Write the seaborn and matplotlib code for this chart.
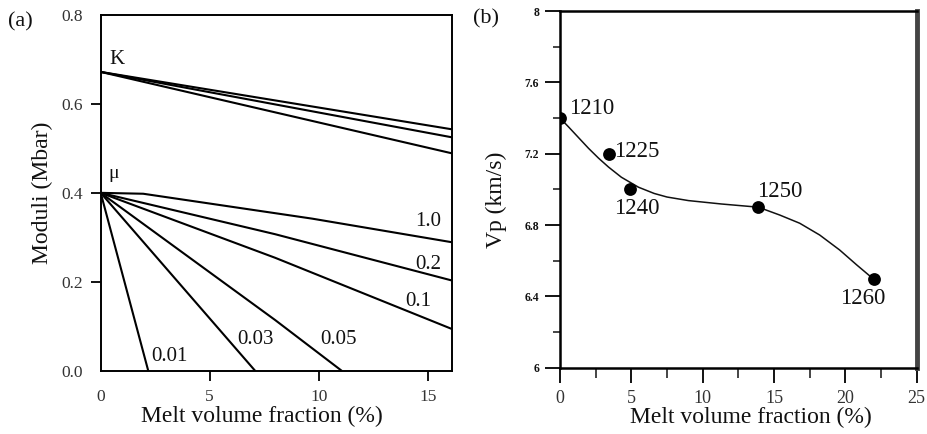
import numpy as np
import pandas as pd
import matplotlib
matplotlib.use("Agg")
import matplotlib.pyplot as plt
import seaborn as sns
from matplotlib.ticker import MultipleLocator

sns.set_theme(style="ticks")
plt.rcParams['font.family'] = ['Liberation Serif', 'DejaVu Serif']
plt.rcParams['mathtext.fontset'] = 'stix'

# ---------------- Panel (a) data ----------------
K_x = [0.0, 16.1]
K_top = [0.672, 0.543]
K_mid = [0.672, 0.525]
K_bot = [0.672, 0.489]

mu_aspects = ["1.0", "0.2", "0.1", "0.05", "0.03", "0.01"]
mu_x = {
    "1.0": [0.0, 1.95, 9.7, 16.1],
    "0.2": [0.0, 8.0, 16.1],
    "0.1": [0.0, 8.0, 16.1],
    "0.05": [0.0, 8.0, 11.05],
    "0.03": [0.0, 7.08],
    "0.01": [0.0, 2.18],
}
mu_y = {
    "1.0": [0.400, 0.398, 0.342, 0.289],
    "0.2": [0.400, 0.307, 0.203],
    "0.1": [0.400, 0.254, 0.094],
    "0.05": [0.400, 0.114, 0.0],
    "0.03": [0.400, 0.0],
    "0.01": [0.400, 0.0],
}
label_pos_x = [15.03, 15.03, 14.57, 10.9, 7.08, 3.13]
label_pos_y = [0.336, 0.238, 0.156, 0.070, 0.070, 0.032]

# ---------------- Panel (b) data ----------------
melt_frac = [0.0, 3.4, 4.9, 13.9, 22.0]
vp = [7.40, 7.20, 7.00, 6.90, 6.50]
temps = ["1210", "1225", "1240", "1250", "1260"]
temp_lab_x = [2.22, 5.36, 5.36, 15.38, 21.2]
temp_lab_y = [7.454, 7.211, 6.894, 6.987, 6.389]

curve_x = [0.0, 0.6, 1.3, 2.0, 2.7, 3.4, 4.3, 5.5, 6.6, 7.5, 9.0, 11.3, 13.9,
           15.4, 16.8, 18.2, 19.6, 20.8, 22.0]
curve_y = [7.400, 7.350, 7.290, 7.230, 7.175, 7.125, 7.068, 7.012, 6.977, 6.957,
           6.937, 6.918, 6.900, 6.856, 6.810, 6.744, 6.660, 6.576, 6.495]

W, H = 928, 434
fig = plt.figure(figsize=(W / 100, H / 100), dpi=100)

# ================= Panel (a) =================
ax1 = fig.add_axes([100.7 / W, 1 - 370.7 / H, 351 / W, 355.7 / H])
lw = 1.5
for ys in (K_top, K_mid, K_bot):
    df = pd.DataFrame({"x": K_x, "y": ys})
    sns.lineplot(data=df, x="x", y="y", ax=ax1, color="black", lw=lw,
                 sort=False, estimator=None)
for a in mu_aspects:
    df = pd.DataFrame({"x": mu_x[a], "y": mu_y[a]})
    sns.lineplot(data=df, x="x", y="y", ax=ax1, color="black", lw=lw,
                 sort=False, estimator=None)
for a, lx, ly in zip(mu_aspects, label_pos_x, label_pos_y):
    ax1.text(lx, ly, a, fontsize=15, ha="center", va="center", color="#111")
ax1.text(0.73, 0.699, "K", fontsize=15, ha="center", va="center", color="#111")
ax1.text(0.58, 0.444, "μ", fontsize=14, ha="center", va="center", color="#111")

ax1.set_xlim(0, 16.1)
ax1.set_ylim(0, 0.8)
ax1.set_xticks([0, 5, 10, 15])
ax1.set_xticklabels(["0", "5", "10", "15"])
ax1.set_yticks([0.0, 0.2, 0.4, 0.6, 0.8])
ax1.set_yticklabels(["0.0", "0.2", "0.4", "0.6", "0.8"])
ax1.tick_params(axis="both", direction="out", length=7, width=1.3,
                labelsize=12.5, colors="black", labelcolor="#333", pad=6)
ax1.xaxis.get_major_ticks()[0].tick1line.set_visible(False)
ax1.yaxis.get_major_ticks()[0].tick1line.set_visible(False)
ax1.yaxis.get_major_ticks()[-1].tick1line.set_visible(False)
for s in ax1.spines.values():
    s.set_linewidth(1.4)
    s.set_color("black")
ax1.set_xlabel("Melt volume fraction (%)", fontsize=17, color="#111")
ax1.xaxis.set_label_coords(0.459, -0.10)
ax1.set_ylabel("Moduli (Mbar)", fontsize=17, color="#111")
ax1.yaxis.set_label_coords(-0.136, 0.5)
fig.text(8 / W, 1 - 22 / H, "(a)", fontsize=16, ha="left", va="center", color="#111")

# ================= Panel (b) =================
ax2 = fig.add_axes([560 / W, 1 - 367.7 / H, 356.7 / W, 356.7 / H])
dfc = pd.DataFrame({"x": curve_x, "y": curve_y})
sns.lineplot(data=dfc, x="x", y="y", ax=ax2, color="#111", lw=1.1,
             sort=False, estimator=None)
dfp = pd.DataFrame({"x": melt_frac, "y": vp})
sns.scatterplot(data=dfp, x="x", y="y", ax=ax2, color="black", s=85,
                edgecolor="black", linewidth=0, zorder=5)
for t, lx, ly in zip(temps, temp_lab_x, temp_lab_y):
    ax2.text(lx, ly, t, fontsize=16.5, ha="center", va="center", color="#111")

ax2.set_xlim(0, 25)
ax2.set_ylim(6, 8)
ax2.set_xticks([0, 5, 10, 15, 20, 25])
ax2.set_yticks([6, 6.4, 6.8, 7.2, 7.6, 8])
ax2.set_yticklabels(["6", "6.4", "6.8", "7.2", "7.6", "8"])
ax2.xaxis.set_minor_locator(MultipleLocator(2.5))
ax2.yaxis.set_minor_locator(MultipleLocator(0.2))
ax2.tick_params(axis="both", which="major", direction="out", length=11, width=1.3,
                colors="black")
ax2.tick_params(axis="x", which="major", labelsize=13, labelcolor="#333", pad=5)
ax2.tick_params(axis="y", which="major", labelsize=8.5, labelcolor="#111", pad=4)
ax2.tick_params(axis="x", which="minor", direction="out", length=7, width=1.2)
ax2.tick_params(axis="y", which="minor", direction="out", length=5, width=1.2)
for lab in ax2.get_yticklabels():
    lab.set_fontweight("bold")
for name, s in ax2.spines.items():
    s.set_linewidth(1.8)
    s.set_color("black")
ax2.spines["right"].set_linewidth(3.5)
ax2.spines["right"].set_color("#444")
ax2.set_xlabel("Melt volume fraction (%)", fontsize=17, color="#111")
ax2.xaxis.set_label_coords(0.535, -0.11)
ax2.set_ylabel("Vp (km/s)", fontsize=17, color="#111")
ax2.yaxis.set_label_coords(-0.149, 0.47)
fig.text(473 / W, 1 - 19 / H, "(b)", fontsize=16, ha="left", va="center", color="#111")

fig.savefig("out.png", dpi=100)
